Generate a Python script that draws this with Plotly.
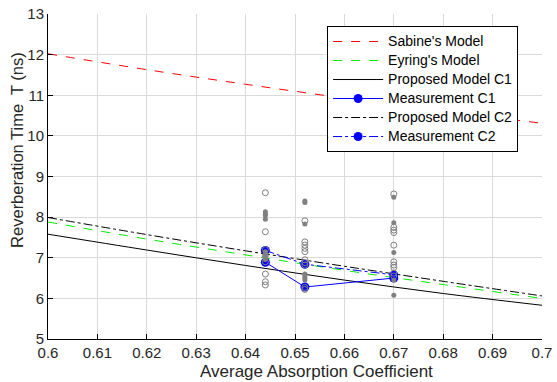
import plotly.graph_objects as go

# Model curves
alpha = [0.60, 0.62, 0.64, 0.66, 0.68, 0.70]
sabine = [12.02, 11.63, 11.27, 10.93, 10.61, 10.31]
eyring = [7.88, 7.46, 7.07, 6.69, 6.34, 6.00]
proposed_c1 = [7.58, 7.19, 6.81, 6.45, 6.12, 5.83]
proposed_c2 = [7.99, 7.57, 7.17, 6.79, 6.42, 6.06]

# Measurements (means)
meas_x = [0.644, 0.652, 0.670]
meas_c1 = [6.89, 6.28, 6.50]
meas_c2 = [7.18, 6.84, 6.58]

# Individual measurements (gray)
open_x = [0.644] * 8 + [0.652] * 10 + [0.670] * 10
open_y = [8.60, 7.64, 7.20, 6.90, 6.60, 6.41, 6.33, 7.05,
          7.91, 7.39, 7.31, 7.23, 7.15, 6.95, 6.88, 6.82, 6.27, 6.22,
          8.57, 7.75, 7.68, 7.62, 7.31, 6.90, 6.82, 6.76, 6.62, 6.55]
fill_x = [0.644] * 8 + [0.652] * 7 + [0.670] * 5
fill_y = [8.13, 8.08, 8.04, 7.95, 7.15, 7.08, 7.02, 6.96,
          8.40, 8.36, 7.83, 6.60, 6.55, 6.50, 6.45,
          8.49, 7.86, 7.13, 6.45, 6.08]

x_ticks = [0.60, 0.61, 0.62, 0.63, 0.64, 0.65, 0.66, 0.67, 0.68, 0.69, 0.70]
x_labels = ["0.6", "0.61", "0.62", "0.63", "0.64", "0.65", "0.66", "0.67", "0.68", "0.69", "0.7"]
y_ticks = [5, 6, 7, 8, 9, 10, 11, 12, 13]

x_title = "Average Absorption Coefficient"
y_title = "Reverberation Time  T (ns)"

FONT = "Liberation Sans, Arial"


def leg(name):
    return '<span style="font-size:14px">' + name + "</span>"


fig = go.Figure()
fig.add_trace(go.Scatter(x=alpha, y=sabine, mode="lines", name=leg("Sabine's Model"),
                         line=dict(color="#ff0000", width=1, dash="dash", shape="spline")))
fig.add_trace(go.Scatter(x=alpha, y=eyring, mode="lines", name=leg("Eyring's Model"),
                         line=dict(color="#00ee00", width=1, dash="dash", shape="spline")))
fig.add_trace(go.Scatter(x=alpha, y=proposed_c1, mode="lines", name=leg("Proposed Model C1"),
                         line=dict(color="#000000", width=1, shape="spline")))
fig.add_trace(go.Scatter(x=meas_x, y=meas_c1, mode="lines+markers", name=leg("Measurement C1"),
                         line=dict(color="#0000ff", width=1),
                         marker=dict(color="#0000ff", size=9, symbol="circle")))
fig.add_trace(go.Scatter(x=alpha, y=proposed_c2, mode="lines", name=leg("Proposed Model C2"),
                         line=dict(color="#000000", width=1, dash="dashdot", shape="spline")))
fig.add_trace(go.Scatter(x=meas_x, y=meas_c2, mode="lines+markers", name=leg("Measurement C2"),
                         line=dict(color="#0000ff", width=1, dash="dashdot"),
                         marker=dict(color="#0000ff", size=9, symbol="circle")))
fig.add_trace(go.Scatter(x=open_x, y=open_y, mode="markers", showlegend=False,
                         marker=dict(symbol="circle-open", size=6, color="#808080",
                                     line=dict(width=1, color="#808080"))))
fig.add_trace(go.Scatter(x=fill_x, y=fill_y, mode="markers", showlegend=False,
                         marker=dict(symbol="circle", size=5, color="#808080")))

axis_common = dict(
    showline=True, linecolor="black", linewidth=1,
    ticks="inside", ticklen=5, tickcolor="black",
    showgrid=True, gridcolor="#dadada", gridwidth=1,
    zeroline=False, mirror=False, automargin=False,
    tickfont=dict(family=FONT, size=15, color="#262626"),
)

fig.update_xaxes(range=[0.6, 0.7], tickvals=x_ticks, ticktext=x_labels, **axis_common)
fig.update_yaxes(range=[5, 13], tickvals=y_ticks, **axis_common)

fig.add_annotation(text=x_title, xref="paper", yref="paper", x=0.5445, y=-0.1,
                   xanchor="center", yanchor="middle", showarrow=False,
                   font=dict(family=FONT, size=17, color="#262626"))
fig.add_annotation(text=y_title, xref="paper", yref="paper", x=-0.063, y=0.5815,
                   xanchor="center", yanchor="middle", showarrow=False, textangle=-90,
                   font=dict(family=FONT, size=16.5, color="#262626"))

fig.update_layout(
    width=557, height=382,
    margin=dict(l=48, r=15, t=14, b=43),
    plot_bgcolor="white", paper_bgcolor="white",
    font=dict(family=FONT),
    legend=dict(x=0.565, y=0.963, xanchor="left", yanchor="top",
                bgcolor="white", bordercolor="black", borderwidth=1,
                font=dict(family=FONT, size=11, color="#000000"),
                itemwidth=50, tracegroupgap=0),
)

fig.write_html("out.html")
